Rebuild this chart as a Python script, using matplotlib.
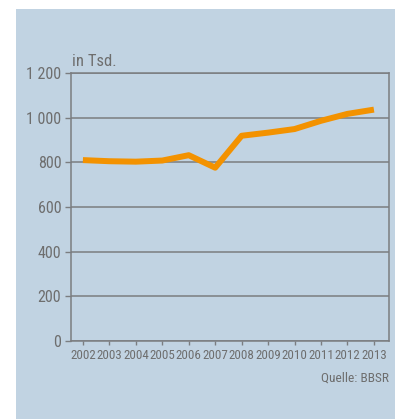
import matplotlib.pyplot as plt
from matplotlib.patches import Rectangle

years = [2002, 2003, 2004, 2005, 2006, 2007, 2008, 2009, 2010, 2011, 2012, 2013]
values = [810, 805, 803, 808, 832, 776, 919, 933, 949, 986, 1017, 1036]
yticks = [0, 200, 400, 600, 800, 1000, 1200]
ytick_labels = ["0", "200", "400", "600", "800", "1 000", "1 200"]

BG = "#c1d3e2"
GRID = "#7b7d80"
TEXT = "#6e6e6e"
ORANGE = "#f39200"

plt.rcParams['font.family'] = ['Roboto Condensed', 'DejaVu Sans']

fig = plt.figure(figsize=(3.95, 4.19), dpi=100)
fig.patch.set_facecolor("white")
fig.patches.append(Rectangle((16 / 395, 0), 1, 1 - 9 / 419, transform=fig.transFigure,
                             facecolor=BG, edgecolor="none", zorder=-1))

ax = fig.add_axes([71 / 395, 1 - 341 / 419, 318 / 395, 268 / 419])
ax.set_facecolor(BG)
ax.plot(years, values, color=ORANGE, linewidth=4.3, solid_capstyle="butt", zorder=3)

ax.set_xlim(2001.55, 2013.57)
ax.set_ylim(0, 1200)
ax.set_xticks(years)
ax.set_xticklabels([str(y) for y in years], fontsize=9.4, color=TEXT)
ax.set_yticks(yticks)
ax.set_yticklabels(ytick_labels, fontsize=11.5, color=TEXT)
ax.yaxis.grid(True, color=GRID, linewidth=1.1)
ax.set_axisbelow(True)
for s in ax.spines.values():
    s.set_color(GRID)
    s.set_linewidth(1.1)
ax.tick_params(axis="y", length=4, width=1, color=GRID, pad=3)
ax.tick_params(axis="x", length=3, width=1, color=GRID, pad=3)

fig.text(72 / 395, 1 - 62 / 419, "in Tsd.", fontsize=12, color=TEXT, va="center", ha="left")
fig.text(389 / 395, 1 - 378 / 419, "Quelle: BBSR", fontsize=9.6, color=TEXT, va="center", ha="right")

fig.savefig("out.png", dpi=100, facecolor=fig.get_facecolor())
